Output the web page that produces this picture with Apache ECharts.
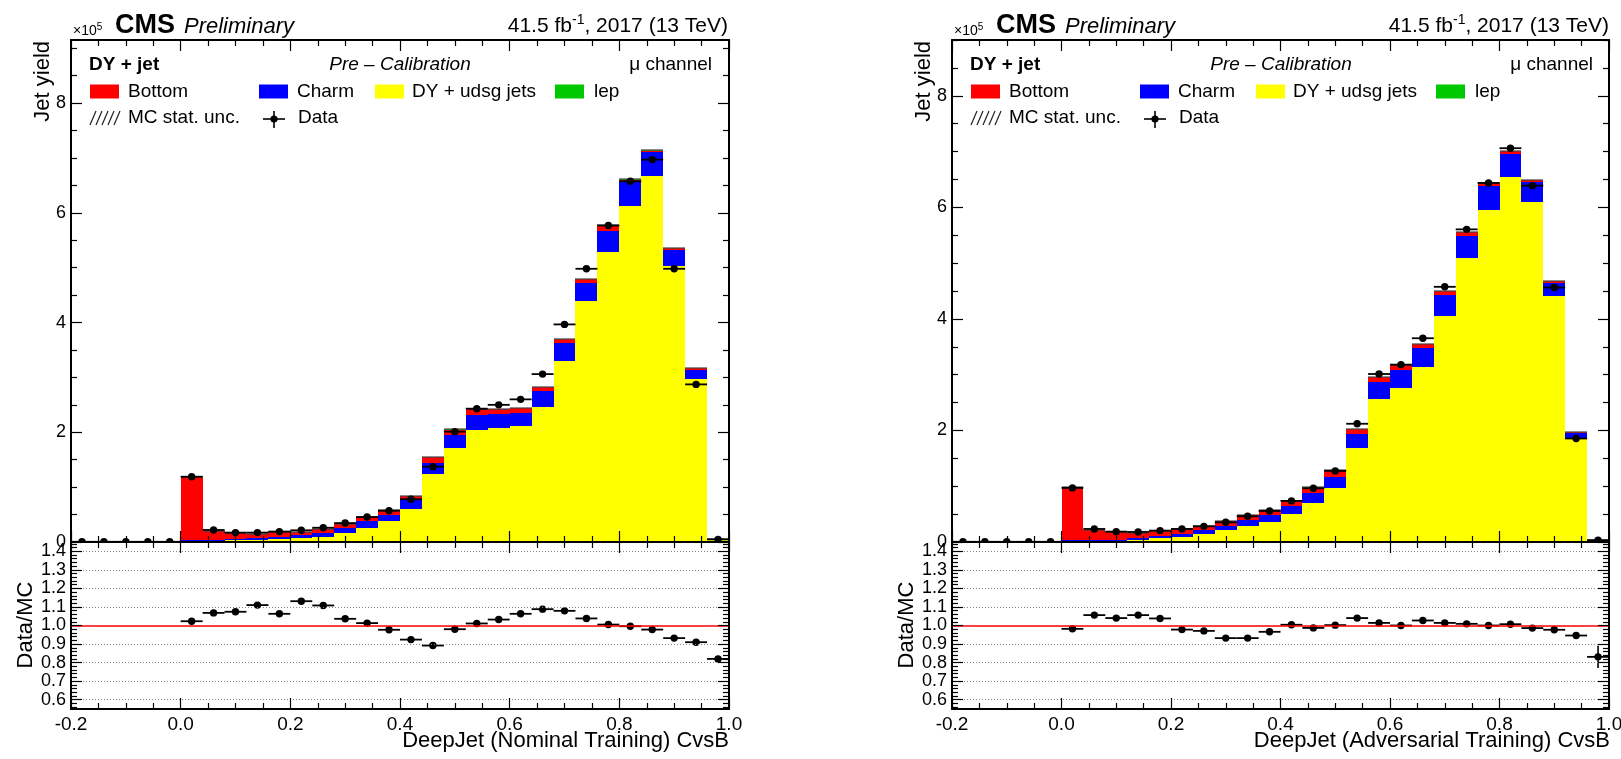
<!DOCTYPE html>
<html lang="en">
<head>
<meta charset="UTF-8">
<title>DeepJet CvsB</title>
<script src="https://cdn.jsdelivr.net/npm/echarts@6/dist/echarts.min.js"></script>
<style>
    * { margin: 0; padding: 0; }
    html, body { width: 100%; height: 100%; overflow: hidden; background: #fff; }
    .chart { width: 1621px; height: 759px; }
</style>
</head>
<body>
<div class="chart"></div>
<script>
    // bins of width 0.04 from -0.2 to 1.0
    let binCentres = [-0.18, -0.14, -0.10, -0.06, -0.02, 0.02, 0.06, 0.10, 0.14, 0.18, 0.22, 0.26, 0.30, 0.34, 0.38,
        0.42, 0.46, 0.50, 0.54, 0.58, 0.62, 0.66, 0.70, 0.74, 0.78, 0.82, 0.86, 0.90, 0.94, 0.98];
    let binHalf = 0.02;

    // nominal training (x10^5 jets)
    let udsgNom = [0, 0, 0, 0, 0, 0.01, 0.02, 0.03, 0.04, 0.055, 0.065, 0.10, 0.165, 0.26, 0.38, 0.607, 1.246, 1.72,
        2.05, 2.07, 2.11, 2.46, 3.30, 4.384, 5.294, 6.127, 6.68, 5.027, 2.976, 0.05];
    let charmNom = [0, 0, 0, 0, 0, 0.033, 0.023, 0.025, 0.04, 0.045, 0.055, 0.065, 0.09, 0.116, 0.12, 0.17, 0.2, 0.224,
        0.26, 0.27, 0.25, 0.285, 0.32, 0.341, 0.383, 0.431, 0.42, 0.298, 0.164, 0.008];
    let bottomNom = [0, 0, 0, 0, 0, 1.142, 0.162, 0.104, 0.073, 0.078, 0.07, 0.065, 0.08, 0.08, 0.09, 0.068, 0.1, 0.106,
        0.11, 0.09, 0.085, 0.085, 0.08, 0.075, 0.09, 0.048, 0.035, 0.03, 0.023, 0.002];
    let lepNom = [0, 0, 0, 0, 0, 0.002, 0.001, 0.001, 0.001, 0.001, 0.001, 0.001, 0.001, 0.001, 0.001, 0.001, 0.002, 0.002,
        0.002, 0.002, 0.002, 0.002, 0.002, 0.002, 0.002, 0.002, 0.002, 0.001, 0.001, 0];
    let dataNom = [0.004, 0.004, 0.004, 0.004, 0.004, 1.19, 0.219, 0.171, 0.171, 0.19, 0.213, 0.26, 0.345, 0.455, 0.57,
        0.78, 1.373, 2.011, 2.43, 2.5, 2.6, 3.06, 3.966, 4.98, 5.768, 6.576, 6.97, 4.98, 2.873, 0.048];
    let ratioNom = [null, null, null, null, null, 1.023, 1.068, 1.074, 1.11, 1.063, 1.131, 1.108, 1.036, 1.013, 0.977,
        0.924, 0.892, 0.98, 1.011, 1.032, 1.063, 1.088, 1.079, 1.038, 1.005, 0.996, 0.978, 0.932, 0.91, 0.82];
    let ratioErrNom = [0, 0, 0, 0, 0, 0.005, 0.005, 0.005, 0.005, 0.005, 0.005, 0.005, 0.004, 0.004, 0.004,
        0.004, 0.003, 0.003, 0.003, 0.003, 0.003, 0.003, 0.003, 0.003, 0.003, 0.003, 0.003, 0.003, 0.004, 0.012];

    // adversarial training
    let udsgAdv = [0, 0, 0, 0, 0, 0.005, 0.012, 0.02, 0.03, 0.066, 0.09, 0.138, 0.21, 0.293, 0.365, 0.497, 0.70, 0.97,
        1.683, 2.557, 2.76, 3.144, 4.054, 5.084, 5.958, 6.545, 6.09, 4.413, 1.85, 0.034];
    let charmAdv = [0, 0, 0, 0, 0, 0.025, 0.018, 0.02, 0.036, 0.048, 0.06, 0.084, 0.083, 0.107, 0.125, 0.156, 0.18, 0.198,
        0.245, 0.311, 0.324, 0.329, 0.371, 0.407, 0.419, 0.413, 0.359, 0.228, 0.108, 0.002];
    let bottomAdv = [0, 0, 0, 0, 0, 0.952, 0.192, 0.136, 0.10, 0.084, 0.087, 0.069, 0.084, 0.09, 0.09, 0.089, 0.096, 0.112,
        0.102, 0.096, 0.09, 0.078, 0.078, 0.06, 0.06, 0.054, 0.036, 0.03, 0.012, 0.002];
    let lepAdv = [0, 0, 0, 0, 0, 0.002, 0.001, 0.001, 0.001, 0.001, 0.001, 0.001, 0.001, 0.001, 0.001, 0.001, 0.002, 0.002,
        0.002, 0.002, 0.002, 0.002, 0.002, 0.002, 0.002, 0.002, 0.002, 0.001, 0.001, 0];
    let dataAdv = [0.004, 0.004, 0.004, 0.004, 0.004, 0.97, 0.234, 0.186, 0.18, 0.204, 0.234, 0.281, 0.353, 0.461, 0.557,
        0.737, 0.964, 1.275, 2.12, 3.012, 3.18, 3.653, 4.575, 5.605, 6.437, 7.06, 6.389, 4.563, 1.856, 0.032];
    let ratioAdv = [null, null, null, null, null, 0.982, 1.056, 1.04, 1.056, 1.038, 0.978, 0.971, 0.932, 0.932, 0.966,
        1.004, 0.987, 1.002, 1.04, 1.014, 1.0, 1.027, 1.014, 1.009, 1.0, 1.007, 0.986, 0.977, 0.946, 0.831];
    let ratioErrAdv = [0, 0, 0, 0, 0, 0.005, 0.005, 0.005, 0.005, 0.005, 0.005, 0.005, 0.004, 0.004, 0.004,
        0.004, 0.003, 0.003, 0.003, 0.003, 0.003, 0.003, 0.003, 0.003, 0.003, 0.003, 0.003, 0.003, 0.004, 0.06];

    let mainLabels = [0, 2, 4, 6, 8];
    let ratioLabels = [0.6, 0.7, 0.8, 0.9, 1.0, 1.1, 1.2, 1.3, 1.4];

    const FONT = '"Liberation Sans", Arial, Helvetica, sans-serif';

    let panels = [
        {left: 71, width: 658, dx: 0, yMax: 9.15, xTitle: 'DeepJet (Nominal Training) CvsB',
            udsg: udsgNom, charm: charmNom, bottom: bottomNom, lep: lepNom, data: dataNom, ratio: ratioNom, ratioErr: ratioErrNom},
        {left: 952, width: 657, dx: 881, yMax: 9.0, xTitle: 'DeepJet (Adversarial Training) CvsB',
            udsg: udsgAdv, charm: charmAdv, bottom: bottomAdv, lep: lepAdv, data: dataAdv, ratio: ratioAdv, ratioErr: ratioErrAdv}
    ];

    // tick positions
    let mainMinor = [];
    for (let i = 1; i <= 18; i++) if (i % 4 !== 0) mainMinor.push(i / 2);
    let ratioMinor = [];
    for (let i = 28; i <= 72; i++) if (i % 5 !== 0) ratioMinor.push(i / 50);

    function xAx(grid, pos, labels) {
        return {
            type: 'value', gridIndex: grid, position: pos, min: -0.2, max: 1.0, interval: 0.2, z: 10,
            axisLine: {show: true, onZero: false, lineStyle: {color: '#000', width: 2}},
            axisTick: {show: true, inside: true, length: 11, lineStyle: {color: '#000', width: 1.2}},
            minorTick: {show: true, splitNumber: 4, length: 6, lineStyle: {color: '#000', width: 1.2}},
            splitLine: {show: false}, minorSplitLine: {show: false},
            axisLabel: labels ? {
                show: true, fontFamily: FONT, fontSize: 19, color: '#000', margin: 6,
                formatter: v => Math.abs(v) < 1e-9 ? '0.0' : v.toFixed(1)
            } : {show: false}
        };
    }

    function yAx(grid, pos, min, max, ticks, len, labels, fmt) {
        return {
            type: 'value', gridIndex: grid, position: pos, min: min, max: max, z: 10,
            axisLine: {show: len > 8, onZero: false, lineStyle: {color: '#000', width: 2}},
            axisTick: {show: true, inside: true, length: len, customValues: ticks, lineStyle: {color: '#000', width: 1.2}},
            splitLine: {show: false},
            axisLabel: labels ? {
                show: true, customValues: labels, fontFamily: FONT, fontSize: 18, color: '#000', margin: 5, formatter: fmt
            } : {show: false}
        };
    }

    function renderHist(params, api) {
        let a = api.coord([api.value(0), api.value(3)]);
        let b = api.coord([api.value(1), api.value(2)]);
        let x0 = Math.round(a[0]), x1 = Math.round(b[0]);
        let y0 = Math.round(a[1]), y1 = Math.round(b[1]);
        if (y1 - y0 <= 0) return null;
        return {type: 'rect', shape: {x: x0, y: y0, width: x1 - x0, height: y1 - y0}, style: {fill: api.visual('color')}};
    }

    function renderTop(params, api) {
        let a = api.coord([api.value(0), api.value(2)]);
        let b = api.coord([api.value(1), api.value(2)]);
        return {type: 'line', shape: {x1: Math.round(a[0]), y1: Math.round(a[1]), x2: Math.round(b[0]), y2: Math.round(a[1])},
            style: {stroke: '#444', lineWidth: 1.2}};
    }

    function renderPoint(params, api) {
        let x = api.value(0), y = api.value(1), e = api.value(2);
        let c = api.coord([x, y]);
        let l = api.coord([x - binHalf, y]), r = api.coord([x + binHalf, y]);
        let up = api.coord([x, y + e]), dn = api.coord([x, y - e]);
        return {
            type: 'group', children: [
                {type: 'line', shape: {x1: l[0], y1: c[1], x2: r[0], y2: c[1]}, style: {stroke: '#000', lineWidth: 1.8}},
                {type: 'line', shape: {x1: c[0], y1: up[1], x2: c[0], y2: dn[1]}, style: {stroke: '#000', lineWidth: 1.6}},
                {type: 'circle', shape: {cx: c[0], cy: c[1], r: 3.7}, style: {fill: '#000'}}
            ]
        };
    }

    let grid = [], xAxis = [], yAxis = [], series = [], graphic = [];

    panels.forEach(p => {
        let gMain = grid.length;
        grid.push({left: p.left, top: 40, width: p.width, height: 502, containLabel: false, outerBoundsMode: 'none'});
        let gRatio = grid.length;
        grid.push({left: p.left, top: 542, width: p.width, height: 167, containLabel: false, outerBoundsMode: 'none'});

        let xMain = xAxis.length;
        xAxis.push(xAx(gMain, 'bottom', false), xAx(gMain, 'top', false));
        let xRatio = xAxis.length;
        xAxis.push(xAx(gRatio, 'bottom', true), xAx(gRatio, 'top', false));

        let yMain = yAxis.length;
        yAxis.push(
            yAx(gMain, 'left', 0, p.yMax, mainLabels, 11, mainLabels, v => String(v)),
            yAx(gMain, 'left', 0, p.yMax, mainMinor, 6),
            yAx(gMain, 'right', 0, p.yMax, mainLabels, 11),
            yAx(gMain, 'right', 0, p.yMax, mainMinor, 6)
        );
        let yRatio = yAxis.length;
        yAxis.push(
            yAx(gRatio, 'left', 0.55, 1.45, ratioLabels, 11, ratioLabels, v => v.toFixed(1)),
            yAx(gRatio, 'left', 0.55, 1.45, ratioMinor, 6),
            yAx(gRatio, 'right', 0.55, 1.45, ratioLabels, 11),
            yAx(gRatio, 'right', 0.55, 1.45, ratioMinor, 6)
        );

        // stacked MC histograms: udsg, charm, bottom, lep
        let stack = [
            {name: 'DY + udsg jets', values: p.udsg, color: '#ffff00'},
            {name: 'Charm', values: p.charm, color: '#0000ff'},
            {name: 'Bottom', values: p.bottom, color: '#ff0000'},
            {name: 'lep', values: p.lep, color: '#00c800'}
        ];
        let base = binCentres.map(() => 0);
        stack.forEach(s => {
            let rows = binCentres.map((c, i) => {
                let row = [c - binHalf, c + binHalf, base[i], base[i] + s.values[i]];
                base[i] += s.values[i];
                return row;
            });
            series.push({
                type: 'custom', name: s.name, xAxisIndex: xMain, yAxisIndex: yMain, renderItem: renderHist,
                itemStyle: {color: s.color}, encode: {x: [0, 1], y: [2, 3]}, data: rows, clip: true, silent: true, z: 2
            });
        });
        series.push({
            type: 'custom', xAxisIndex: xMain, yAxisIndex: yMain, renderItem: renderTop, silent: true, z: 3, clip: true,
            encode: {x: [0, 1], y: 2},
            data: binCentres.map((c, i) => [c - binHalf, c + binHalf, base[i]]).filter(r => r[2] > 0.01)
        });
        series.push({
            type: 'custom', name: 'Data', xAxisIndex: xMain, yAxisIndex: yMain, renderItem: renderPoint, z: 4, clip: true,
            encode: {x: 0, y: 1}, data: binCentres.map((c, i) => [c, p.data[i], 0])
        });

        // ratio panel
        series.push({
            type: 'line', xAxisIndex: xRatio, yAxisIndex: yRatio, data: [], z: 1, silent: true,
            markLine: {
                silent: true, symbol: 'none', animation: false, label: {show: false},
                lineStyle: {color: '#888', type: [1, 2], width: 1},
                data: ratioLabels.filter(v => v !== 1.0).map(v => ({yAxis: v}))
            }
        });
        series.push({
            type: 'line', xAxisIndex: xRatio, yAxisIndex: yRatio, data: [], z: 2, silent: true,
            markLine: {
                silent: true, symbol: 'none', animation: false, label: {show: false},
                lineStyle: {color: '#ff0000', type: 'solid', width: 1.6},
                data: [{yAxis: 1.0}]
            }
        });
        series.push({
            type: 'custom', xAxisIndex: xRatio, yAxisIndex: yRatio, renderItem: renderPoint, z: 4, clip: true,
            encode: {x: 0, y: 1},
            data: binCentres.map((c, i) => [c, p.ratio[i], p.ratioErr[i]]).filter(r => r[1] !== null)
        });

        // texts
        let dx = p.dx;
        let txt = (x, y, text, font, align, extra) => Object.assign({
            type: 'text', x: x, y: y, z: 20,
            style: {text: text, font: font, fill: '#000', align: align, textAlign: align, verticalAlign: 'middle', textVerticalAlign: 'middle'}
        }, extra || {});

        graphic.push({
            type: 'text', x: 73 + dx, y: 30, z: 20,
            style: {
                text: '{a|×10}{s|5}', align: 'left', verticalAlign: 'middle', fill: '#000',
                rich: {a: {fontFamily: FONT, fontSize: 14, lineHeight: 16, verticalAlign: 'bottom'},
                    s: {fontFamily: FONT, fontSize: 10, lineHeight: 16, verticalAlign: 'top'}}
            }
        });
        graphic.push(txt(115 + dx, 26, 'CMS', 'bold 27px ' + FONT, 'left'));
        graphic.push(txt(184 + dx, 27, 'Preliminary', 'italic 22px ' + FONT, 'left'));
        graphic.push({
            type: 'text', x: 728 + dx, y: 25, z: 20,
            style: {
                text: '{a|41.5 fb}{s|-1}{a|, 2017 (13 TeV)}', align: 'right', verticalAlign: 'middle', fill: '#000',
                rich: {a: {fontFamily: FONT, fontSize: 21, lineHeight: 24, verticalAlign: 'bottom'},
                    s: {fontFamily: FONT, fontSize: 14, lineHeight: 24, verticalAlign: 'top'}}
            }
        });
        graphic.push(txt(43 + dx, 41, 'Jet yield', '22px ' + FONT, 'right', {rotation: Math.PI / 2}));
        graphic.push(txt(26 + dx, 625, 'Data/MC', '22px ' + FONT, 'center', {rotation: Math.PI / 2}));
        graphic.push(txt(729 + dx, 741, p.xTitle, '22px ' + FONT, 'right'));

        graphic.push(txt(89 + dx, 65, 'DY + jet', 'bold 19px ' + FONT, 'left'));
        graphic.push(txt(400 + dx, 65, 'Pre – Calibration', 'italic 19px ' + FONT, 'center'));
        graphic.push(txt(712 + dx, 65, 'μ channel', '19px ' + FONT, 'right'));

        let legendItems = [
            {x: 90, label: 'Bottom', color: '#ff0000', tx: 128},
            {x: 259, label: 'Charm', color: '#0000ff', tx: 297},
            {x: 375, label: 'DY + udsg jets', color: '#ffff00', tx: 412},
            {x: 555, label: 'lep', color: '#00c800', tx: 594}
        ];
        legendItems.forEach(it => {
            graphic.push({type: 'rect', z: 20, shape: {x: it.x + dx, y: 84.5, width: 29, height: 14}, style: {fill: it.color}});
            graphic.push(txt(it.tx + dx, 91.5, it.label, '19px ' + FONT, 'left'));
        });
        for (let k = 0; k < 5; k++) {
            let hx = 90 + dx + k * 6;
            graphic.push({type: 'line', z: 20, shape: {x1: hx, y1: 125, x2: hx + 6, y2: 111},
                style: {stroke: '#222', lineWidth: 1.2}});
        }
        graphic.push(txt(128 + dx, 118, 'MC stat. unc.', '19px ' + FONT, 'left'));
        graphic.push({type: 'line', z: 20, shape: {x1: 263 + dx, y1: 119, x2: 285 + dx, y2: 119}, style: {stroke: '#000', lineWidth: 1.6}});
        graphic.push({type: 'line', z: 20, shape: {x1: 274 + dx, y1: 111, x2: 274 + dx, y2: 128}, style: {stroke: '#000', lineWidth: 1.6}});
        graphic.push({type: 'circle', z: 20, shape: {cx: 274 + dx, cy: 119, r: 3.6}, style: {fill: '#000'}});
        graphic.push(txt(298 + dx, 118, 'Data', '19px ' + FONT, 'left'));
    });

    let chart = echarts.init(document.querySelector('.chart'));
    chart.setOption({
        animation: false,
        backgroundColor: '#fff',
        grid: grid,
        xAxis: xAxis,
        yAxis: yAxis,
        series: series,
        graphic: graphic
    });
</script>
</body>
</html>
